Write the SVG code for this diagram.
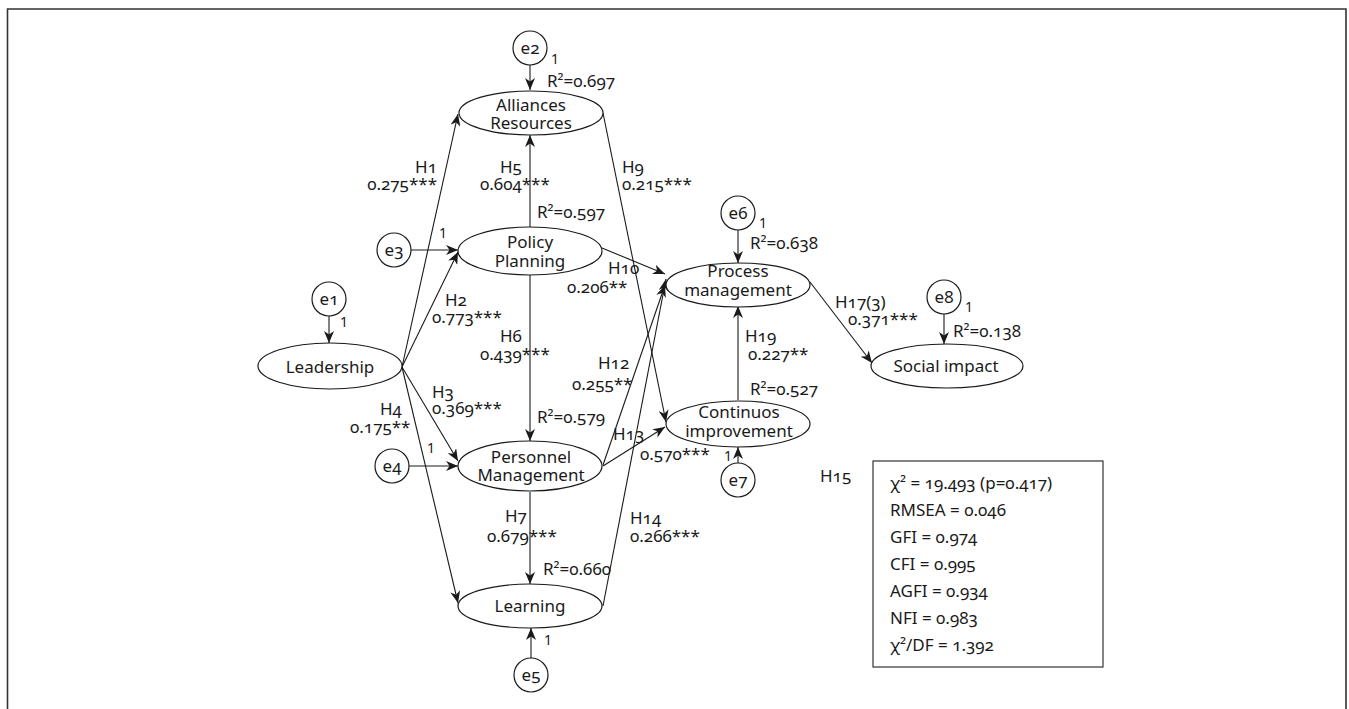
<svg xmlns="http://www.w3.org/2000/svg" width="1349" height="709" viewBox="0 0 1349 709">
<style>
text{font-family:"Noto Sans","Open Sans","Liberation Sans",sans-serif;font-size:17px;fill:#1a1a1a;font-variant-numeric:oldstyle-nums;}
.c{text-anchor:middle;}
.e{text-anchor:end;}
.s{font-size:14px;font-variant-numeric:lining-nums;}
.node{fill:#fff;stroke:#1a1a1a;stroke-width:1.2;}
.edge{fill:none;stroke:#1a1a1a;stroke-width:1.1;marker-end:url(#ah);}
.frame{fill:none;stroke:#333;stroke-width:1.6;}
</style>
<defs>
<marker id="ah" viewBox="0 0 12 10" refX="12" refY="5" markerWidth="12" markerHeight="10" markerUnits="userSpaceOnUse" orient="auto">
<path d="M0,0 L12,5 L0,10 L3.5,5 Z" fill="#1a1a1a"/>
</marker>
</defs>
<rect width="1349" height="709" fill="#fff"/>
<path class="frame" d="M7.5,709 V9 H1346 V709"/>

<g id="connectors">
<line class="edge" x1="530" y1="65" x2="530" y2="90"/>
<line class="edge" x1="411" y1="250" x2="458" y2="250"/>
<line class="edge" x1="329" y1="316" x2="329" y2="343"/>
<line class="edge" x1="409" y1="466" x2="458" y2="466"/>
<line class="edge" x1="531" y1="658" x2="531" y2="628"/>
<line class="edge" x1="738" y1="230" x2="738" y2="263"/>
<line class="edge" x1="738" y1="463" x2="738" y2="447"/>
<line class="edge" x1="944" y1="314" x2="944" y2="344"/>
<line class="edge" x1="402" y1="367" x2="458" y2="114"/>
<line class="edge" x1="402" y1="367" x2="458" y2="252"/>
<line class="edge" x1="402" y1="367" x2="458" y2="461"/>
<line class="edge" x1="402" y1="367" x2="458" y2="603"/>
<line class="edge" x1="530" y1="227" x2="530" y2="135"/>
<line class="edge" x1="530" y1="275" x2="530" y2="441"/>
<line class="edge" x1="530" y1="492" x2="530" y2="584"/>
<line class="edge" x1="603" y1="113" x2="666" y2="422"/>
<line class="edge" x1="602" y1="248" x2="665" y2="274"/>
<line class="edge" x1="603" y1="465" x2="665" y2="285"/>
<line class="edge" x1="603" y1="466" x2="665" y2="427"/>
<line class="edge" x1="603" y1="606" x2="666" y2="279"/>
<line class="edge" x1="738" y1="400" x2="738" y2="306"/>
<line class="edge" x1="810" y1="282" x2="872" y2="363"/>
</g>

<g id="e1"><circle class="node" cx="329" cy="299" r="17"/><text class="c" x="329" y="305">e1</text><text class="s c" x="344" y="327">1</text></g>
<g id="e2"><circle class="node" cx="530" cy="48" r="17"/><text class="c" x="530" y="54">e2</text><text class="s c" x="555" y="64">1</text></g>
<g id="e3"><circle class="node" cx="394" cy="250" r="17"/><text class="c" x="394" y="256">e3</text><text class="s c" x="443" y="238">1</text></g>
<g id="e4"><circle class="node" cx="392" cy="466" r="17"/><text class="c" x="392" y="472">e4</text><text class="s c" x="431" y="453">1</text></g>
<g id="e5"><circle class="node" cx="531" cy="675" r="17"/><text class="c" x="531" y="681">e5</text><text class="s c" x="548" y="645">1</text></g>
<g id="e6"><circle class="node" cx="738" cy="213" r="17"/><text class="c" x="738" y="219">e6</text><text class="s c" x="763" y="228">1</text></g>
<g id="e7"><circle class="node" cx="738" cy="480" r="17"/><text class="c" x="738" y="486">e7</text><text class="s c" x="728" y="461">1</text></g>
<g id="e8"><circle class="node" cx="944" cy="297" r="17"/><text class="c" x="944" y="303">e8</text><text class="s c" x="969" y="312">1</text></g>

<g id="leadership"><ellipse class="node" cx="330" cy="366" rx="72" ry="23"/><text class="c" x="330" y="373">Leadership</text></g>
<g id="alliances"><ellipse class="node" cx="531" cy="113" rx="72" ry="22"/><text class="c" x="531" y="111">Alliances</text><text class="c" x="531" y="129">Resources</text></g>
<g id="policy"><ellipse class="node" cx="530" cy="251" rx="72" ry="24"/><text class="c" x="530" y="248">Policy</text><text class="c" x="530" y="267">Planning</text></g>
<g id="personnel"><ellipse class="node" cx="530" cy="466" rx="72" ry="25"/><text class="c" x="531" y="463">Personnel</text><text class="c" x="531" y="481">Management</text></g>
<g id="learning"><ellipse class="node" cx="530" cy="606" rx="72" ry="22"/><text class="c" x="530" y="612">Learning</text></g>
<g id="process"><ellipse class="node" cx="738" cy="285" rx="72" ry="22"/><text class="c" x="738" y="277">Process</text><text class="c" x="738" y="296">management</text></g>
<g id="continuos"><ellipse class="node" cx="738" cy="424" rx="72" ry="23"/><text class="c" x="739" y="418">Continuos</text><text class="c" x="739" y="437">improvement</text></g>
<g id="social"><ellipse class="node" cx="947" cy="366" rx="76" ry="22"/><text class="c" x="946" y="372">Social impact</text></g>

<g id="labels">
<text x="547" y="87">R²=0.697</text>
<text class="e" x="437" y="173">H1</text>
<text class="e" x="437" y="190">0.275***</text>
<text x="500" y="173">H5</text>
<text x="480" y="190">0.604***</text>
<text x="622" y="173">H9</text>
<text x="622" y="190">0.215***</text>
<text x="537" y="218">R²=0.597</text>
<text x="608" y="274">H10</text>
<text x="567" y="293">0.206**</text>
<text x="445" y="306">H2</text>
<text x="432" y="323">0.773***</text>
<text x="500" y="342">H6</text>
<text x="480" y="360">0.439***</text>
<text x="598" y="369">H12</text>
<text x="572" y="390">0.255**</text>
<text x="432" y="398">H3</text>
<text x="432" y="414">0.369***</text>
<text x="380" y="415">H4</text>
<text x="350" y="433">0.175**</text>
<text x="537" y="423">R²=0.579</text>
<text x="613" y="440">H13</text>
<text x="640" y="460">0.570***</text>
<text x="505" y="522">H7</text>
<text x="487" y="542">0.679***</text>
<text x="630" y="524">H14</text>
<text x="630" y="542">0.266***</text>
<text x="543" y="575">R²=0.660</text>
<text x="750" y="249">R²=0.638</text>
<text x="745" y="342">H19</text>
<text x="748" y="360">0.227**</text>
<text x="750" y="395">R²=0.527</text>
<text x="835" y="308">H17(3)</text>
<text x="848" y="325">0.371***</text>
<text x="953" y="337">R²=0.138</text>
<text x="820" y="482">H15</text>
</g>

<g id="fit-stats">
<rect x="873" y="461" width="230" height="206" fill="#fff" stroke="#333" stroke-width="1.2"/>
<text x="890" y="489">χ² = 19.493 (p=0.417)</text>
<text x="890" y="516">RMSEA = 0.046</text>
<text x="890" y="543">GFI = 0.974</text>
<text x="890" y="570">CFI = 0.995</text>
<text x="890" y="597">AGFI = 0.934</text>
<text x="890" y="624">NFI = 0.983</text>
<text x="890" y="651">χ²/DF = 1.392</text>
</g>
</svg>
